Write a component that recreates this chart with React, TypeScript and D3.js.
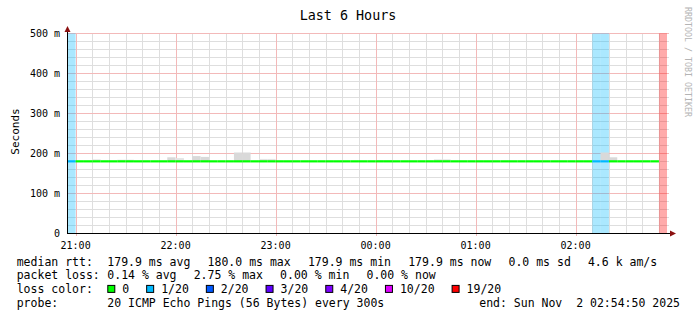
import React from "react";
import * as d3 from "d3";

// ---- data (5-minute slots starting 20:55 UTC, 72 slots) ----
const medianMs: (number | null)[] = [
  179.9, 179.9, 179.9, 179.9, 179.9, 179.9, 179.9, 179.9, 179.9, 179.9, 179.9, 179.9,
  179.9, 179.9, 179.9, 179.9, 179.9, 179.9, 179.9, 179.9, 179.9, 179.9, 179.9, 179.9,
  179.9, 179.9, 179.9, 179.9, 179.9, 179.9, 179.9, 179.9, 179.9, 179.9, 179.9, 179.9,
  179.9, 179.9, 179.9, 179.9, 179.9, 179.9, 179.9, 179.9, 179.9, 179.9, 179.9, 179.9,
  179.9, 179.9, 179.9, 179.9, 179.9, 179.9, 179.9, 179.9, 179.9, 179.9, 179.9, 179.9,
  179.9, 179.9, 179.9, 179.9, 179.9, 179.9, 179.9, 179.9, 179.9, 179.9, 179.9, null,
];
const smokeTopMs: (number | null)[] = [
  null, null, null, 185, null, null, 184, 184, null, null, null, null,
  190, 188, null, 193, 191, null, null, null, 202, 202, null, 186,
  186, null, null, null, null, null, null, null, null, null, null, null,
  null, 183, 183, null, null, null, null, null, 185, 185, null, null,
  null, null, null, null, null, null, null, null, null, null, null, null,
  null, null, null, null, 202, 190, null, null, null, null, null, null,
];
const lossOf20: number[] = [
  1, 0, 0, 0, 0, 0, 0, 0, 0, 0, 0, 0,
  0, 0, 0, 0, 0, 0, 0, 0, 0, 0, 0, 0,
  0, 0, 0, 0, 0, 0, 0, 0, 0, 0, 0, 0,
  0, 0, 0, 0, 0, 0, 0, 0, 0, 0, 0, 0,
  0, 0, 0, 0, 0, 0, 0, 0, 0, 0, 0, 0,
  0, 0, 0, 1, 1, 0, 0, 0, 0, 0, 0, 19,
];

const lossLevels = [0, 1, 2, 3, 4, 10, 19];
const lossLabels = ["0", "1/20", "2/20", "3/20", "4/20", "10/20", "19/20"];
const lossColors = ["#00ff00", "#00b8ff", "#0059ff", "#5e00ff", "#7e00ff", "#dd00ff", "#ff0000"];

const yTickValues = [0, 0.1, 0.2, 0.3, 0.4, 0.5];
const yTickLabels = ["0", "100 m", "200 m", "300 m", "400 m", "500 m"];

const rttStats = ["179.9 ms avg", "180.0 ms max", "179.9 ms min", "179.9 ms now", "0.0 ms sd", "4.6 k am/s"];
const lossStats = ["0.14 % avg", "2.75 % max", "0.00 % min", "0.00 % now"];
const probeText = "20 ICMP Echo Pings (56 Bytes) every 300s";
const endText = "end: Sun Nov  2 02:54:50 2025";
const titleText = "Last 6 Hours";

const START = Date.UTC(2025, 10, 1, 20, 54, 50);
const END = Date.UTC(2025, 10, 2, 2, 54, 50);
const FIRST_SLOT = Date.UTC(2025, 10, 1, 20, 55, 0);
const STEP = 300000;

const FONT = "'DejaVu Sans Mono', monospace";

function colorForLoss(l: number) {
  let idx = 0;
  lossLevels.forEach((lv, i) => {
    if (l >= lv) idx = i;
  });
  return lossColors[idx];
}

export default function App() {
  const W = 697, H = 321;
  const x = d3.scaleUtc().domain([START, END]).range([67, 667]);
  const y = d3.scaleLinear().domain([0, 0.5]).range([233.3, 33.3]);

  const slotStart = (k: number) => FIRST_SLOT + k * STEP;
  const xs = (t: number) => Math.max(67, Math.min(667, x(t)));

  const minorX = d3.utcMinute.every(10)!.range(new Date(START), new Date(END));
  const majorX = d3.utcHour.every(1)!.range(new Date(START), new Date(END));
  const minorY = d3.range(0, 0.5001, 0.02);
  const fmt = d3.utcFormat("%H:%M");

  // line segments by loss colour
  const segs: { color: string; pts: [number, number][] }[] = [];
  medianMs.forEach((m, k) => {
    if (m == null) return;
    const c = colorForLoss(lossOf20[k]);
    segs.push({
      color: c,
      pts: [
        [xs(slotStart(k)), y(m / 1000)],
        [xs(slotStart(k + 1)), y(m / 1000)],
      ],
    });
  });
  const line = d3.line<[number, number]>().x((d) => d[0]).y((d) => d[1]);

  const cw = 6.95;
  const legX = 107.3;
  const rows = [265.7, 279.3, 292.9, 306.5];

  let acc = legX;
  const rttPos = rttStats.map((s) => {
    const p = acc;
    acc += s.length * cw + 2 * cw + 3;
    return p;
  });
  acc = legX;
  const lossPos = lossStats.map((s) => {
    const p = acc;
    acc += s.length * cw + 2 * cw + 3;
    return p;
  });
  acc = legX;
  const colPos = lossLabels.map((s) => {
    const p = acc;
    acc += 15 + s.length * cw + 2 * cw + 3;
    return p;
  });

  return (
    <svg
      width={W}
      height={H}
      style={{ position: "absolute", left: 0, top: 0, background: "#fff" }}
      fontFamily={FONT}
    >
      <rect x={0} y={0} width={W} height={H} fill="#fff" />
      <text x={348} y={20} textAnchor="middle" fontSize={13.4} fill="#000">
        {titleText}
      </text>

      {/* grid */}
      {minorY.map((v, i) => (
        <line key={"gy" + i} x1={67} x2={669} y1={Math.round(y(v)) + 0.5} y2={Math.round(y(v)) + 0.5} stroke="#dedede" strokeWidth={1} />
      ))}
      {minorX.map((t, i) => (
        <line key={"gx" + i} x1={Math.round(x(t)) + 0.5} x2={Math.round(x(t)) + 0.5} y1={33} y2={233} stroke="#dedede" strokeWidth={1} />
      ))}
      {yTickValues.map((v, i) => (
        <line key={"my" + i} x1={67} x2={669} y1={Math.round(y(v)) + 0.5} y2={Math.round(y(v)) + 0.5} stroke="#f3b9b9" strokeWidth={1} />
      ))}
      {majorX.map((t, i) => (
        <line key={"mx" + i} x1={Math.round(x(t)) + 0.5} x2={Math.round(x(t)) + 0.5} y1={33} y2={236} stroke="#f3b9b9" strokeWidth={1} />
      ))}

      {/* loss backgrounds */}
      {lossOf20.map((l, k) =>
        l > 0 ? (
          <rect
            key={"lb" + k}
            x={xs(slotStart(k))}
            y={y(0.5)}
            width={xs(slotStart(k + 1)) - xs(slotStart(k))}
            height={y(0) - y(0.5)}
            fill={colorForLoss(l)}
            fillOpacity={0.33}
          />
        ) : null
      )}

      {/* smoke */}
      {smokeTopMs.map((s, k) =>
        s != null ? (
          <rect
            key={"sm" + k}
            x={xs(slotStart(k))}
            y={y(s / 1000)}
            width={xs(slotStart(k + 1)) - xs(slotStart(k))}
            height={y(0.1785) - y(s / 1000)}
            fill={s > 188 ? "#d9d9d9" : "#e4e4e4"}
          />
        ) : null
      )}

      {/* median */}
      {segs.map((s, i) => (
        <path key={"ln" + i} d={line(s.pts) || ""} stroke={s.color} strokeWidth={2.2} fill="none" />
      ))}

      {/* axes */}
      <line x1={67} x2={672} y1={233.5} y2={233.5} stroke="#000" strokeWidth={1} />
      <line x1={67.5} x2={67.5} y1={233} y2={30} stroke="#000" strokeWidth={1} />
      <path d="M670,230.5 L676,233.5 L670,236.5 Z" fill="#8b1010" />
      <path d="M64.5,32 L67.5,26 L70.5,32 Z" fill="#8b1010" />

      {/* tick labels */}
      {yTickValues.map((v, i) => (
        <text key={"yl" + i} x={60} y={y(v) + 3.8} textAnchor="end" fontSize={10} fill="#000">
          {yTickLabels[i]}
        </text>
      ))}
      {majorX.map((t, i) => (
        <text key={"xl" + i} x={x(t)} y={249} textAnchor="middle" fontSize={10} fill="#000">
          {fmt(t)}
        </text>
      ))}

      <text transform="translate(18.5,131.5) rotate(-90)" textAnchor="middle" fontSize={11} fill="#000">
        Seconds
      </text>
      <text transform="translate(684.5,62) rotate(90)" textAnchor="middle" fontSize={8.3} fill="#b4b4b4">
        RRDTOOL / TOBI OETIKER
      </text>

      {/* legend */}
      <g fontSize={11.5} fill="#000" style={{ whiteSpace: "pre" }}>
        <text x={16.7} y={rows[0]}>median rtt:</text>
        {rttStats.map((s, i) => (
          <text key={"rs" + i} x={rttPos[i]} y={rows[0]} xmlSpace="preserve">{s}</text>
        ))}
        <text x={16.7} y={rows[1]}>packet loss:</text>
        {lossStats.map((s, i) => (
          <text key={"ls" + i} x={lossPos[i]} y={rows[1]} xmlSpace="preserve">{s}</text>
        ))}
        <text x={16.7} y={rows[2]}>loss color:</text>
        {lossLabels.map((s, i) => (
          <g key={"lc" + i}>
            <rect x={colPos[i] + 0.5} y={rows[2] - 7.5} width={7} height={7} fill={lossColors[i]} stroke="#000" strokeWidth={1} />
            <text x={colPos[i] + 15} y={rows[2]}>{s}</text>
          </g>
        ))}
        <text x={16.7} y={rows[3]}>probe:</text>
        <text x={legX} y={rows[3]}>{probeText}</text>
        <text x={680} y={rows[3]} textAnchor="end" xmlSpace="preserve">{endText}</text>
      </g>
    </svg>
  );
}
